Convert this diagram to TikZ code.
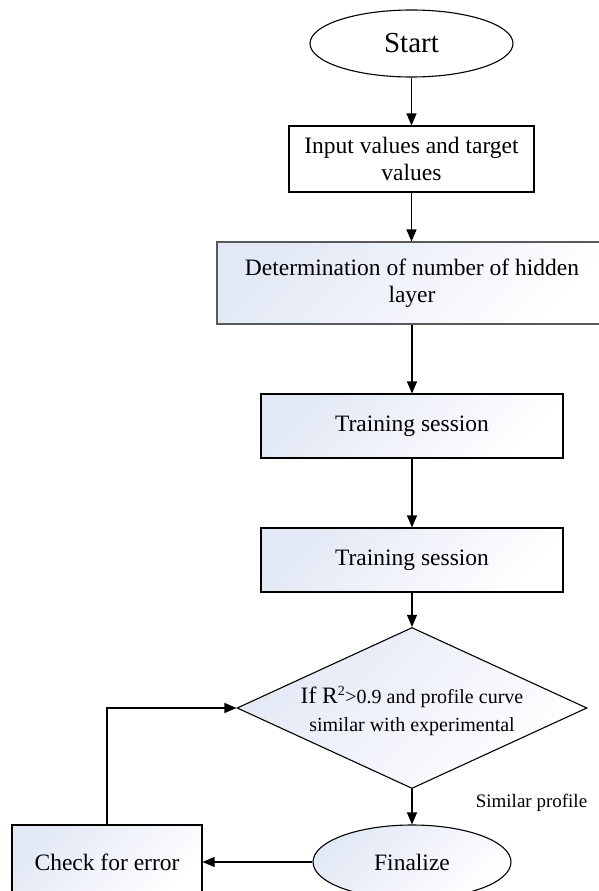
\documentclass[tikz,border=0pt]{standalone}
\usepackage{fontspec}
\setmainfont{Liberation Serif}
\usepackage{xcolor}
\usetikzlibrary{shapes.geometric,arrows.meta,positioning}
\definecolor{shadecolor}{HTML}{E2E8F5}

\begin{document}
\begin{tikzpicture}[
    x=1pt, y=1pt,
    every node/.style={font=\fontsize{23.5}{27}\selectfont, align=center, inner sep=0pt},
    plainbox/.style={rectangle, draw, line width=1.1pt, fill=white},
    shadebox/.style={rectangle, draw, line width=1.1pt,
                     top color=shadecolor, bottom color=white, shading angle=45},
    terminal/.style={ellipse, draw, line width=1.1pt},
    decision/.style={diamond, draw, line width=1.1pt,
                     top color=shadecolor, bottom color=white, shading angle=45,
                     minimum width=350pt, minimum height=161pt},
    arrow/.style={draw, line width=1.1pt, -{Triangle[length=12pt,width=10pt]}}
]
\clip (0,0) rectangle (599,-891);

\node[terminal, fill=white, minimum width=203pt, minimum height=67pt,
      font=\fontsize{29}{34}\selectfont] (start) at (411.5,-43.5) {Start};
\node[plainbox, minimum width=245pt, minimum height=66pt] (input) at (411.5,-159)
    {Input values and target\\values};
\node[shadebox, draw=black!65, minimum width=390pt, minimum height=82pt] (hidden) at (412,-283)
    {Determination of number of hidden\\layer};
\node[shadebox, minimum width=302pt, minimum height=64pt] (train1) at (412,-426) {Training session};
\node[shadebox, minimum width=302pt, minimum height=64pt] (train2) at (412,-560) {Training session};
\node[decision] (decide) at (412,-708) {};
\node[font=\fontsize{20}{28}\selectfont] (decidetext) at (412,-711)
    {{\fontsize{23.5}{28}\selectfont If R}\textsuperscript{2}>0.9 and profile curve\\similar with experimental};
\node[terminal, top color=shadecolor, bottom color=white, shading angle=45,
      minimum width=198pt, minimum height=74pt] (finalize) at (412,-862) {Finalize};
\node[shadebox, minimum width=190pt, minimum height=74pt] (errorbox) at (107,-862) {Check for error};
\node[font=\fontsize{19}{22}\selectfont] (similar) at (531.5,-803) {Similar profile};

% main flow
\draw[arrow] (start.south) -- (input.north);
\draw[arrow] (input.south) -- (input.south |- hidden.north);
\draw[arrow] (hidden.south) -- (train1.north);
\draw[arrow] (train1.south) -- (train2.north);
\draw[arrow] (train2.south) -- (decide.north);
\draw[arrow] (decide.south) -- (finalize.north);
% loop back
\draw[arrow] (finalize.west) -- (errorbox.east);
\draw[arrow] (errorbox.north) |- (decide.west);
\end{tikzpicture}
\end{document}
